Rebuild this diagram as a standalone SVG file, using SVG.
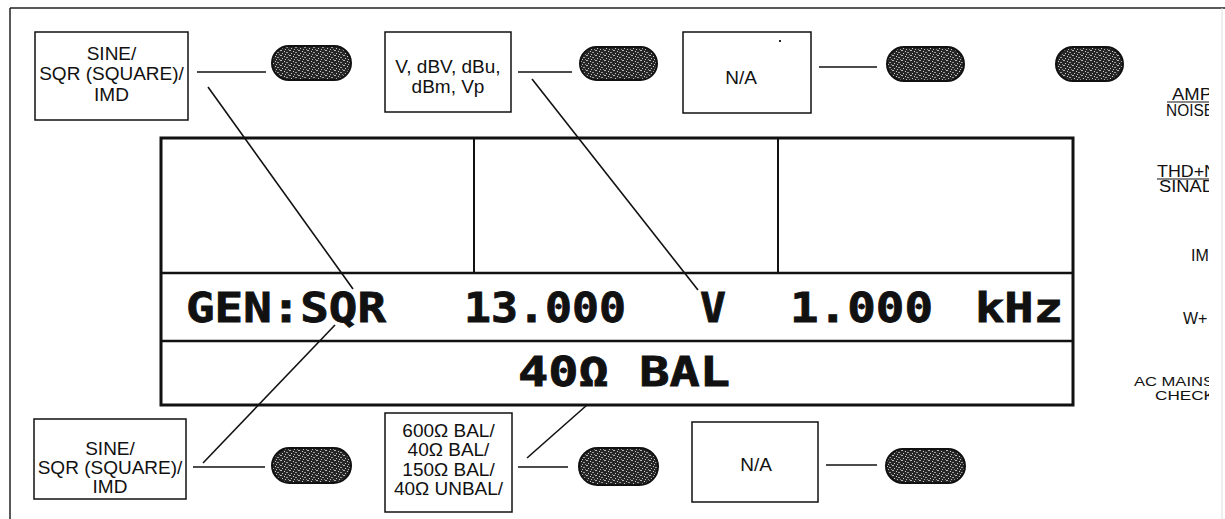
<svg xmlns="http://www.w3.org/2000/svg" width="1225" height="519" viewBox="0 0 1225 519">
<defs>
<style>
.box{fill:#fff;stroke:#111;stroke-width:1.5}
.lbl{font-family:"Liberation Sans",Arial,sans-serif;font-size:19px;fill:#111;text-anchor:middle}
.side{font-family:"Liberation Sans",Arial,sans-serif;font-size:16px;fill:#111}
.lcd{font-family:"DejaVu Sans Mono","Liberation Mono",monospace;font-weight:bold;font-size:40px;fill:#111;stroke:#111;stroke-width:0.8}
.pill{fill:url(#speck);stroke:#111;stroke-width:2}
.conn line{stroke:#111;stroke-width:1.6}
.disp{fill:none;stroke:#111}
</style>
<pattern id="speck" width="9" height="5" patternUnits="userSpaceOnUse">
<rect width="9" height="5" fill="#262626"/>
<rect x="1" y="0" width="2" height="1" fill="#b5b5b5"/>
<rect x="5" y="1" width="1" height="1" fill="#d0d0d0"/>
<rect x="7" y="2" width="2" height="1" fill="#9a9a9a"/>
<rect x="3" y="3" width="1" height="1" fill="#c8c8c8"/>
<rect x="0" y="4" width="1" height="1" fill="#8a8a8a"/>
<rect x="6" y="4" width="1" height="1" fill="#bcbcbc"/>
</pattern>
<clipPath id="rightclip"><rect x="0" y="0" width="1209" height="519"/></clipPath>
</defs>
<rect width="1225" height="519" fill="#fff"/>
<g id="frame">
<line x1="10" y1="8" x2="1225" y2="8" stroke="#222" stroke-width="1.5"/>
<line x1="10" y1="8" x2="10" y2="519" stroke="#222" stroke-width="1.5"/>
<line x1="1222" y1="8" x2="1222" y2="519" stroke="#ddd" stroke-width="1"/>
</g>
<g id="display">
<rect class="disp" x="161" y="138" width="912" height="267" stroke-width="3"/>
<line class="disp" x1="161" y1="273" x2="1073" y2="273" stroke-width="2.5"/>
<line class="disp" x1="161" y1="341" x2="1073" y2="341" stroke-width="2.5"/>
<line class="disp" x1="474" y1="138" x2="474" y2="273" stroke-width="2"/>
<line class="disp" x1="778" y1="138" x2="778" y2="273" stroke-width="2"/>
<text class="lcd" x="186" y="322" textLength="200" lengthAdjust="spacingAndGlyphs">GEN:SQR</text>
<text class="lcd" x="464" y="322" textLength="162" lengthAdjust="spacingAndGlyphs">13.000</text>
<text class="lcd" x="700" y="322" textLength="26" lengthAdjust="spacingAndGlyphs">V</text>
<text class="lcd" x="790" y="322" textLength="143" lengthAdjust="spacingAndGlyphs">1.000</text>
<text class="lcd" x="975" y="322" textLength="88" lengthAdjust="spacingAndGlyphs">kHz</text>
<text class="lcd" x="518" y="386" textLength="212" lengthAdjust="spacingAndGlyphs">40Ω BAL</text>
</g>
<g id="box-top-1">
<rect class="box" x="35" y="32" width="153" height="88"/>
<text class="lbl" x="111.5" y="60">SINE/</text>
<text class="lbl" x="111.5" y="80">SQR (SQUARE)/</text>
<text class="lbl" x="111.5" y="101">IMD</text>
</g>
<g id="box-top-2">
<rect class="box" x="385" y="32" width="126" height="80"/>
<text class="lbl" x="448" y="73">V, dBV, dBu,</text>
<text class="lbl" x="448" y="93">dBm, Vp</text>
</g>
<g id="box-top-3">
<rect class="box" x="683" y="32" width="128" height="81"/>
<rect x="779" y="40" width="2" height="2" fill="#222"/>
<text class="lbl" x="741" y="84">N/A</text>
</g>
<g id="box-bottom-1">
<rect class="box" x="34" y="419" width="152" height="80"/>
<text class="lbl" x="110" y="455">SINE/</text>
<text class="lbl" x="110" y="474">SQR (SQUARE)/</text>
<text class="lbl" x="110" y="493">IMD</text>
</g>
<g id="box-bottom-2">
<rect class="box" x="385" y="413" width="127" height="99"/>
<text class="lbl" x="448.5" y="437">600Ω BAL/</text>
<text class="lbl" x="448.5" y="456">40Ω BAL/</text>
<text class="lbl" x="448.5" y="476">150Ω BAL/</text>
<text class="lbl" x="448.5" y="495">40Ω UNBAL/</text>
</g>
<g id="box-bottom-3">
<rect class="box" x="692" y="422" width="126" height="80"/>
<text class="lbl" x="756" y="471">N/A</text>
</g>
<g id="softkeys">
<rect id="key-t1" class="pill" x="272" y="46" width="79" height="34" rx="17"/>
<rect id="key-t2" class="pill" x="580" y="47" width="77" height="33" rx="16.5"/>
<rect id="key-t3" class="pill" x="887" y="47" width="77" height="34" rx="17"/>
<rect id="key-t4" class="pill" x="1056" y="47" width="67" height="34" rx="17"/>
<rect id="key-b1" class="pill" x="272" y="448" width="79" height="35" rx="17.5"/>
<rect id="key-b2" class="pill" x="579" y="448" width="79" height="37" rx="18.5"/>
<rect id="key-b3" class="pill" x="886" y="449" width="79" height="34" rx="17"/>
</g>
<g id="side-labels" clip-path="url(#rightclip)">
<g id="lbl-amp">
<text class="side" x="1172" y="100" textLength="40" lengthAdjust="spacingAndGlyphs">AMP</text>
<line x1="1167" y1="102" x2="1209" y2="102" stroke="#111" stroke-width="1"/>
<text class="side" x="1166" y="116" textLength="48" lengthAdjust="spacingAndGlyphs">NOISE</text>
</g>
<g id="lbl-thd">
<text class="side" x="1157" y="177" textLength="60" lengthAdjust="spacingAndGlyphs">THD+N</text>
<line x1="1157" y1="179" x2="1209" y2="179" stroke="#111" stroke-width="1"/>
<text class="side" x="1159" y="192" textLength="56" lengthAdjust="spacingAndGlyphs">SINAD</text>
</g>
<g id="lbl-im"><text class="side" x="1191" y="261">IM</text></g>
<g id="lbl-w"><text class="side" x="1183" y="324">W+</text></g>
<g id="lbl-ac">
<text class="side" x="1134" y="386" textLength="80" lengthAdjust="spacingAndGlyphs" style="font-size:13px">AC MAINS</text>
<text class="side" x="1155" y="400" textLength="60" lengthAdjust="spacingAndGlyphs" style="font-size:13px">CHECK</text>
</g>
</g>
<g id="connectors" class="conn">
<line x1="197" y1="72" x2="266" y2="72"/>
<line x1="518" y1="72" x2="572" y2="72"/>
<line x1="819" y1="67" x2="877" y2="67"/>
<line x1="193" y1="467" x2="265" y2="467"/>
<line x1="518" y1="467" x2="568" y2="467"/>
<line x1="826" y1="465" x2="877" y2="465"/>
<line x1="208" y1="87" x2="353" y2="289"/>
<line x1="532" y1="79" x2="698" y2="290"/>
<line x1="203" y1="463" x2="335" y2="325"/>
<line x1="527" y1="458" x2="587" y2="405"/>
</g>
</svg>
